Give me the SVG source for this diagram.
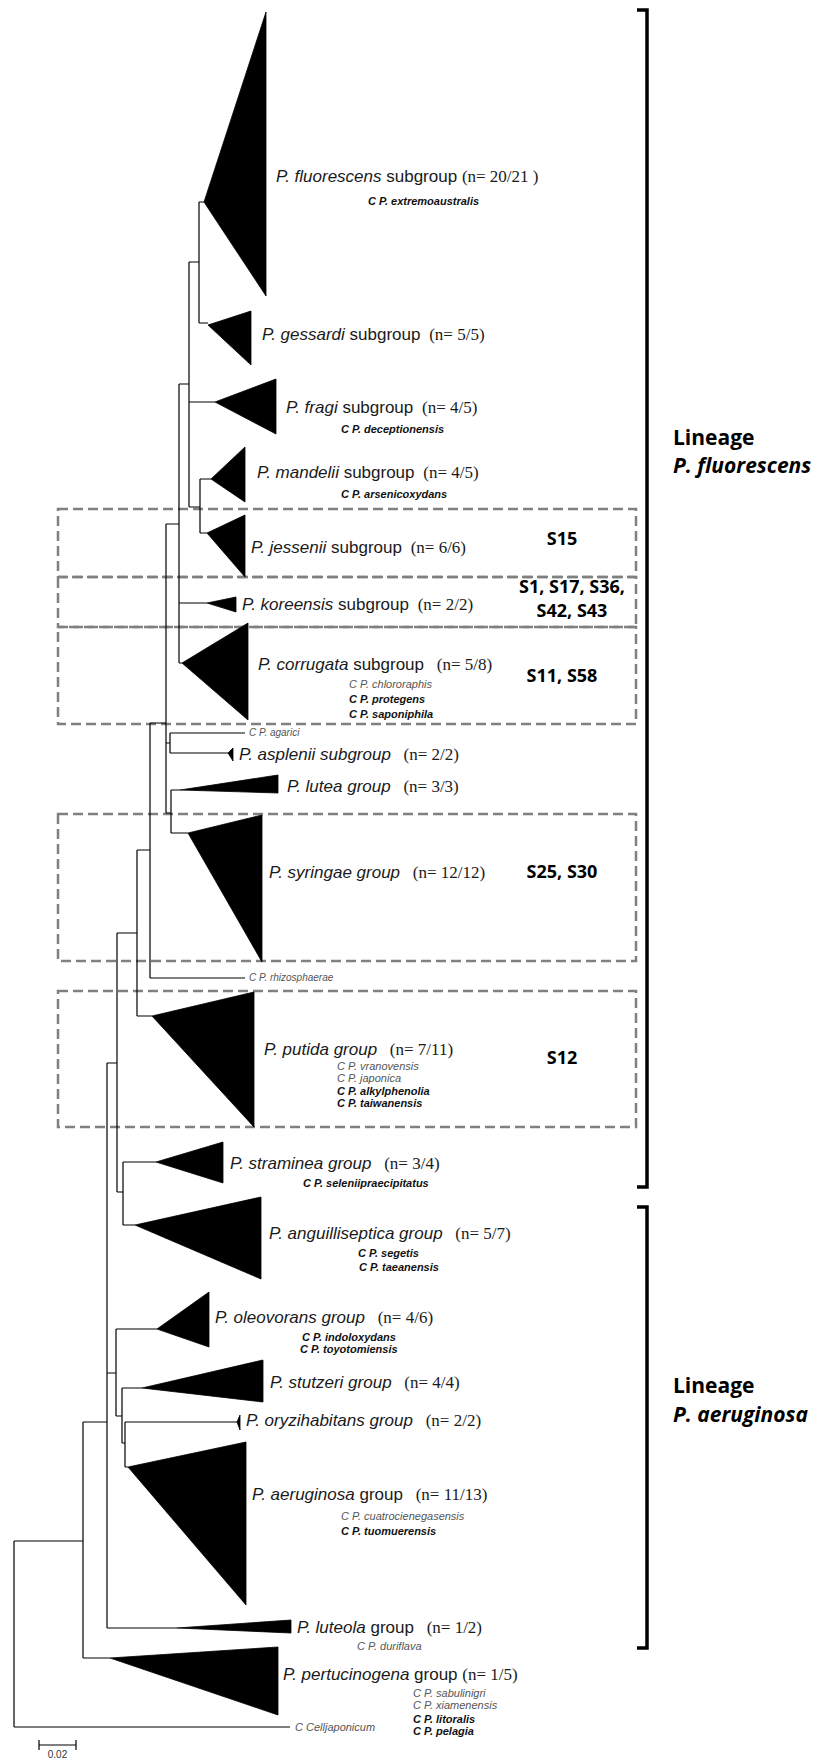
<svg xmlns="http://www.w3.org/2000/svg" width="823" height="1762" viewBox="0 0 823 1762">
<style>
.br{fill:none;stroke:#000;stroke-width:1.2}
.tri{fill:#000;stroke:#000;stroke-width:0.8}
.lbl{font-family:"Liberation Sans",Arial,sans-serif;font-size:17px;fill:#1a1a1a}
.n{font-family:"Liberation Serif","Times New Roman",serif}
.it{font-style:italic}
.sb{font-family:"Liberation Sans",Arial,sans-serif;font-size:11px;font-style:italic;font-weight:bold;fill:#111}
.sn{font-family:"Liberation Sans",Arial,sans-serif;font-size:11px;font-style:italic;fill:#555}
.box{fill:none;stroke:#808080;stroke-width:2.5;stroke-dasharray:10,5}
.s{font-family:"Open Sans","DejaVu Sans",sans-serif;font-size:18px;font-weight:bold;fill:#000;text-anchor:middle}
.lin{font-family:"Open Sans","DejaVu Sans",sans-serif;font-size:21px;font-weight:bold;fill:#000}
.brk{fill:none;stroke:#000;stroke-width:3.5}
</style>
<rect width="823" height="1762" fill="#fff"/>

<g id="boxes">
<rect class="box" x="58" y="509" width="578" height="68"/>
<rect class="box" x="58" y="577" width="578" height="50"/>
<rect class="box" x="58" y="627" width="578" height="97"/>
<rect class="box" x="58" y="814" width="578" height="147"/>
<rect class="box" x="58" y="991" width="578" height="136"/>
</g>

<g id="connectors">
<path class="br" d="M199,202H204 M199,202V323 M199,323H208 M189,262H199 M189,262V507 M189,402H215 M189,507H200 M200,479V533 M200,479H211 M200,533H207 M179,384H189 M179,384V663 M179,603H207 M179,663H182 M166,524H179 M166,524V813 M166,743H170 M170,733V753 M170,733H245 M170,753H228 M166,813H171 M171,790V833 M171,790H180 M171,833H188 M150,723H166 M150,723V978 M150,978H245 M137,850H150 M137,850V1016 M137,1016H152 M117,933H137 M117,933V1192 M117,1192H123 M123,1162V1225 M123,1162H156 M123,1225H135 M107,1063H117 M107,1063V1628 M107,1373H116 M116,1329V1416 M116,1329H157 M116,1416H122 M122,1388V1443 M122,1388H142 M122,1443H125 M125,1422V1467 M125,1422H237 M125,1467H128 M107,1628H177 M83,1422H107 M83,1422V1658 M83,1658H110 M14,1541H83 M14,1541V1727 M14,1727H290"/>
</g>

<g id="fluorescens">
<polygon class="tri" points="204,202 266,12 266,296"/>
<text class="lbl" x="276" y="182"><tspan class="it">P. fluorescens</tspan> subgroup <tspan class="n">(n= 20/21 )</tspan></text>
<text class="sb" x="368" y="205">C P. extremoaustralis</text>
</g>
<g id="gessardi">
<polygon class="tri" points="208,325 251,311 251,365"/>
<text class="lbl" x="262" y="340"><tspan class="it">P. gessardi</tspan> subgroup <tspan class="n" dx="4">(n= 5/5)</tspan></text>
</g>
<g id="fragi">
<polygon class="tri" points="215,402 276,379 276,434"/>
<text class="lbl" x="286" y="413"><tspan class="it">P. fragi</tspan> subgroup <tspan class="n" dx="4">(n= 4/5)</tspan></text>
<text class="sb" x="341" y="433">C P. deceptionensis</text>
</g>
<g id="mandelii">
<polygon class="tri" points="211,479 245,447 245,502"/>
<text class="lbl" x="257" y="478"><tspan class="it">P. mandelii</tspan> subgroup <tspan class="n" dx="4">(n= 4/5)</tspan></text>
<text class="sb" x="341" y="498">C P. arsenicoxydans</text>
</g>
<g id="jessenii">
<polygon class="tri" points="207,533 245,515 245,577"/>
<text class="lbl" x="251" y="553"><tspan class="it">P. jessenii</tspan> subgroup <tspan class="n" dx="4">(n= 6/6)</tspan></text>
</g>
<g id="koreensis">
<polygon class="tri" points="207,603 236,597 236,612"/>
<text class="lbl" x="242" y="610"><tspan class="it">P. koreensis</tspan> subgroup <tspan class="n" dx="4">(n= 2/2)</tspan></text>
</g>
<g id="corrugata">
<polygon class="tri" points="182,663 248,623 248,720"/>
<text class="lbl" x="258" y="670"><tspan class="it">P. corrugata</tspan> subgroup <tspan class="n" dx="8">(n= 5/8)</tspan></text>
<text class="sn" x="349" y="688">C P. chlororaphis</text>
<text class="sb" x="349" y="703">C P. protegens</text>
<text class="sb" x="349" y="718">C P. saponiphila</text>
</g>
<g id="agarici">
<text class="sn" x="249" y="736" style="font-size:10px">C P. agarici</text>
</g>
<g id="asplenii">
<polygon class="tri" points="228,753 233,748 233,761"/>
<text class="lbl it" x="239" y="760">P. asplenii subgroup <tspan class="n" dx="8" font-style="normal">(n= 2/2)</tspan></text>
</g>
<g id="lutea">
<polygon class="tri" points="180,790 278,775 278,793"/>
<text class="lbl it" x="287" y="792">P. lutea group <tspan class="n" dx="8" font-style="normal">(n= 3/3)</tspan></text>
</g>
<g id="syringae">
<polygon class="tri" points="188,833 262,815 262,962"/>
<text class="lbl it" x="269" y="878">P. syringae group <tspan class="n" dx="8" font-style="normal">(n= 12/12)</tspan></text>
</g>
<g id="rhizosphaerae">
<text class="sn" x="249" y="981" style="font-size:10px">C P. rhizosphaerae</text>
</g>
<g id="putida">
<polygon class="tri" points="152,1016 254,992 254,1127"/>
<text class="lbl it" x="264" y="1055">P. putida group <tspan class="n" dx="8" font-style="normal">(n= 7/11)</tspan></text>
<text class="sn" x="337" y="1070">C P. vranovensis</text>
<text class="sn" x="337" y="1082">C P. japonica</text>
<text class="sb" x="337" y="1095">C P. alkylphenolia</text>
<text class="sb" x="337" y="1107">C P. taiwanensis</text>
</g>
<g id="straminea">
<polygon class="tri" points="156,1162 223,1142 223,1183"/>
<text class="lbl it" x="230" y="1169">P. straminea group <tspan class="n" dx="8" font-style="normal">(n= 3/4)</tspan></text>
<text class="sb" x="303" y="1187">C P. seleniipraecipitatus</text>
</g>
<g id="anguilliseptica">
<polygon class="tri" points="135,1225 261,1197 261,1279"/>
<text class="lbl it" x="269" y="1239">P. anguilliseptica group <tspan class="n" dx="8" font-style="normal">(n= 5/7)</tspan></text>
<text class="sb" x="358" y="1257">C P. segetis</text>
<text class="sb" x="359" y="1271">C P. taeanensis</text>
</g>
<g id="oleovorans">
<polygon class="tri" points="157,1329 209,1292 209,1347"/>
<text class="lbl it" x="215" y="1323">P. oleovorans group <tspan class="n" dx="8" font-style="normal">(n= 4/6)</tspan></text>
<text class="sb" x="302" y="1341">C P. indoloxydans</text>
<text class="sb" x="300" y="1353">C P. toyotomiensis</text>
</g>
<g id="stutzeri">
<polygon class="tri" points="142,1388 263,1360 263,1402"/>
<text class="lbl it" x="270" y="1388">P. stutzeri group <tspan class="n" dx="8" font-style="normal">(n= 4/4)</tspan></text>
</g>
<g id="oryzihabitans">
<polygon class="tri" points="237,1422 240,1415 240,1430"/>
<text class="lbl it" x="246" y="1426">P. oryzihabitans group <tspan class="n" dx="8" font-style="normal">(n= 2/2)</tspan></text>
</g>
<g id="aeruginosa">
<polygon class="tri" points="128,1467 246,1442 246,1605"/>
<text class="lbl" x="252" y="1500"><tspan class="it">P. aeruginosa</tspan> group <tspan class="n" dx="8">(n= 11/13)</tspan></text>
<text class="sn" x="341" y="1520">C P. cuatrocienegasensis</text>
<text class="sb" x="341" y="1535">C P. tuomuerensis</text>
</g>
<g id="luteola">
<polygon class="tri" points="177,1628 291,1620 291,1633"/>
<text class="lbl" x="297" y="1633"><tspan class="it">P. luteola</tspan> group <tspan class="n" dx="8">(n= 1/2)</tspan></text>
<text class="sn" x="357" y="1650">C P. duriflava</text>
</g>
<g id="pertucinogena">
<polygon class="tri" points="110,1658 278,1647 278,1715"/>
<text class="lbl" x="283" y="1680"><tspan class="it">P. pertucinogena</tspan> group <tspan class="n">(n= 1/5)</tspan></text>
<text class="sn" x="413" y="1697">C P. sabulinigri</text>
<text class="sn" x="413" y="1709">C P. xiamenensis</text>
<text class="sb" x="413" y="1723">C P. litoralis</text>
<text class="sb" x="413" y="1735">C P. pelagia</text>
</g>
<g id="cellvibrio">
<text class="sn" x="295" y="1731">C Celljaponicum</text>
</g>

<g id="s-labels">
<text class="s" x="562" y="545">S15</text>
<text class="s" x="572" y="593">S1, S17, S36,</text>
<text class="s" x="572" y="617">S42, S43</text>
<text class="s" x="562" y="682">S11, S58</text>
<text class="s" x="562" y="878">S25, S30</text>
<text class="s" x="562" y="1064">S12</text>
</g>

<g id="lineage-fluorescens">
<path class="brk" d="M637,10H647V1187H637"/>
<text class="lin" x="673" y="445">Lineage</text>
<text class="lin" x="673" y="473" font-style="italic">P. fluorescens</text>
</g>
<g id="lineage-aeruginosa">
<path class="brk" d="M637,1207H647V1648H637"/>
<text class="lin" x="673" y="1393">Lineage</text>
<text class="lin" x="673" y="1422" font-style="italic">P. aeruginosa</text>
</g>

<g id="scale">
<path class="br" d="M39,1745H76 M39,1740V1750 M76,1740V1750"/>
<text x="57.5" y="1758" text-anchor="middle" style="font-family:'Liberation Sans',Arial,sans-serif;font-size:10px;fill:#333">0.02</text>
</g>
</svg>
